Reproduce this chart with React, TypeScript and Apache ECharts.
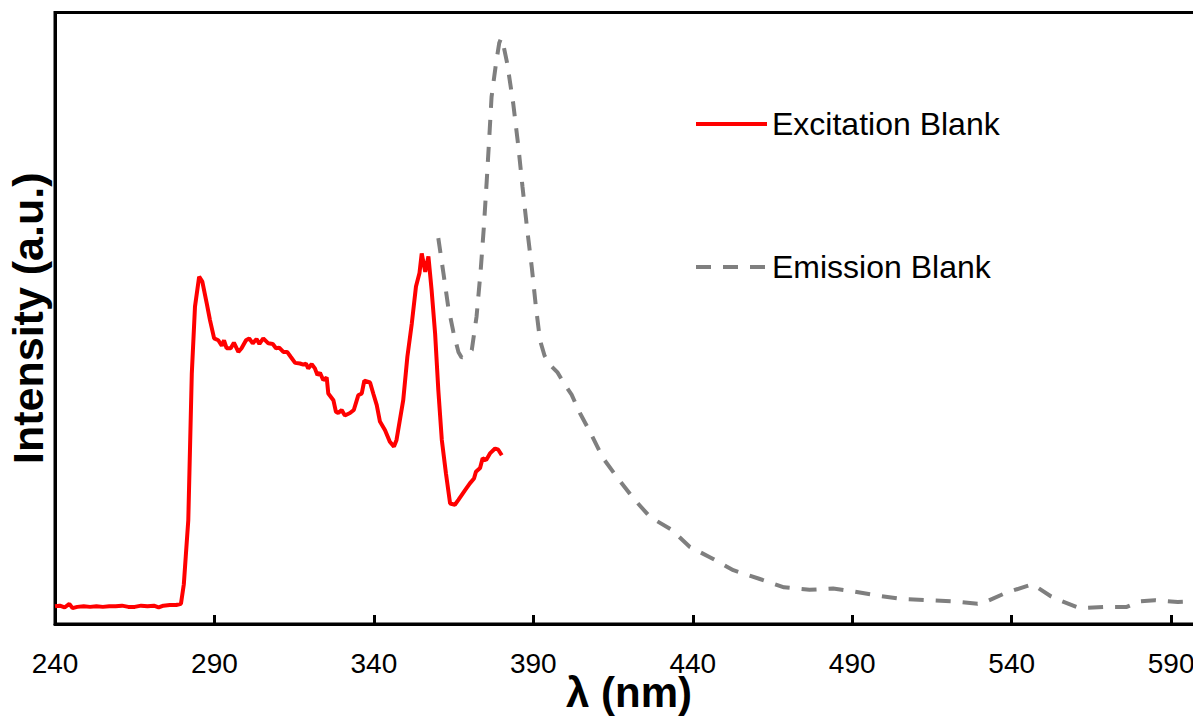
import React, { useEffect, useRef } from "react";
import * as echarts from "echarts";

// Excitation blank spectrum (wavelength in nm, intensity in arbitrary units)
const excitationWavelength = [
  240, 241.5, 243, 244.5, 245.5, 247, 249, 251, 253, 255, 257, 259, 261, 263, 265, 267, 269, 271, 272.5, 274,
  276, 278, 279.5, 280.4, 281.0, 281.8, 282.9, 283.9, 285.2, 286.2, 287.6, 288.6, 289.9, 291.2, 292.3, 293.0,
  293.8, 295.1, 296.1, 297.5, 298.5, 299.9, 300.9, 302.0, 303.2, 304.1, 305.3, 306.9, 308.3, 309.3, 310.3,
  311.6, 312.8, 313.9, 315.3, 316.8, 317.9, 318.7, 319.4, 320.5, 321.5, 322.3, 323.1, 324.1, 325.2, 325.7,
  327.3, 328.1, 328.8, 329.9, 330.9, 332.5, 333.7, 335.1, 336.2, 337.0, 338.8, 339.8, 340.9, 341.9, 343.5,
  345.0, 346.3, 347.1, 349.2, 350.5, 351.9, 353.2, 354.3, 355.0, 356.1, 357.1, 358.1, 359.2, 360.2, 361.3,
  362.6, 363.9, 365.4, 366.5, 368.6, 370.1, 371.4, 372.0, 373.3, 374.1, 375.2, 376.4, 378.0, 379.0, 380.1,
];
const excitationIntensity = [
  2.9, 3.0, 2.7, 3.3, 2.6, 2.8, 2.9, 2.8, 2.9, 2.8, 2.9, 2.9, 3.0, 2.8, 2.8, 3.0, 2.9, 3.0, 2.7, 3.0,
  3.1, 3.1, 3.3, 6.5, 11, 17, 41, 51.9, 56.8, 56.0, 52.4, 49.7, 46.7, 46.4, 45.5, 46.4,
  45.1, 45.1, 46.0, 44.5, 45.1, 46.4, 46.7, 45.9, 46.6, 45.8, 46.7, 45.9, 45.8, 45.1, 45.2,
  44.5, 44.5, 43.7, 42.7, 42.6, 42.4, 42.6, 41.8, 42.5, 41.8, 40.7, 41.1, 39.9, 40.3, 37.7,
  36.6, 34.7, 34.5, 35.0, 34.1, 34.5, 35.0, 37.4, 37.7, 39.8, 39.5, 37.7, 35.8, 33.1, 31.7,
  29.8, 29.0, 30.1, 36.6, 43.7, 49.2, 55.2, 57.4, 60.6, 57.6, 60.1, 54.6, 47.5, 38.3, 30.1,
  24.6, 19.7, 19.5, 20.3, 21.9, 23.0, 23.8, 24.9, 25.5, 27.1, 26.8, 27.9, 28.7, 28.5, 27.6,
];

// Emission blank spectrum
const emissionWavelength = [
  360.2, 361.8, 363.3, 364.9, 366.5, 367.5, 368.6, 370.7, 372.2, 373.5, 374.5, 375.4, 376.2, 376.9, 378.3,
  379.3, 379.9, 380.8, 381.8, 383.7, 385.3, 386.6, 388.1, 389.5, 390.8, 392.1, 393.5, 395.2, 397.5, 399.9,
  402, 404.6, 407.8, 411.9, 416.1, 421.3, 426.6, 433.4, 439.1, 445.8, 452.7, 460.8, 468.6, 476.6, 484.0,
  490.8, 498.6, 505.6, 513.9, 521.6, 529.3, 531.7, 538.2, 544.7, 546.5, 552.4, 554.8, 561.3, 569.0, 576.1,
  580.2, 584.9, 592.1, 597, 600,
];
const emissionIntensity = [
  63.1, 57.4, 51.9, 47.8, 44.5, 43.6, 43.7, 44.8, 50.3, 57.9, 65.0, 72.6, 79.7, 86.2, 91.7,
  95.0, 95.8, 94.2, 91.7, 85.1, 78.1, 71.5, 64.4, 58.4, 51.9, 46.4, 43.9, 42.4, 41.2, 39.1,
  37.5, 34.5, 31.4, 27.1, 24.1, 20.6, 17.5, 15.4, 12.6, 10.8, 8.8, 7.4, 6.0, 5.6, 5.8,
  5.3, 4.6, 4.1, 3.9, 3.7, 3.3, 3.6, 5.1, 6.2, 6.5, 4.5, 3.9, 2.6, 2.8, 2.8,
  3.7, 3.9, 3.6, 3.7, 3.6,
];

const seriesNames = ["Excitation Blank", "Emission Blank"];
const seriesColors = ["#ff0000", "#7f7f7f"];
const emissionDash = [15, 12];

const xTitle = "λ (nm)";
const yTitle = "Intensity (a.u.)";

const xTickStart = 240;
const xTickStep = 50;
const xEnd = 600;

const FONT = "'Liberation Sans', Arial, sans-serif";

const zip = (xs: number[], ys: number[]) => xs.map((x, i) => [x, ys[i]]);

// Hand-placed key: a short line sample followed by the series name
function legendEntry(y: number, name: string, color: string, dash?: number[]) {
  return [
    {
      type: "line",
      shape: { x1: 696, y1: y, x2: 767, y2: y },
      style: { stroke: color, lineWidth: 4, lineDash: dash },
    },
    {
      type: "text",
      x: 772,
      y,
      style: {
        text: name,
        font: `32px ${FONT}`,
        fill: "#000",
        textAlign: "left",
        textVerticalAlign: "middle",
      },
    },
  ];
}

export default function App() {
  const ref = useRef<HTMLDivElement>(null);

  useEffect(() => {
    if (!ref.current) return;
    const chart = echarts.init(ref.current, undefined, { renderer: "svg" });
    chart.setOption({
      animation: false,
      backgroundColor: "#ffffff",
      grid: {
        left: 55,
        right: -10,
        top: 12.5,
        bottom: 95,
        outerBoundsMode: "none",
        containLabel: false,
        show: true,
        borderColor: "#000",
        borderWidth: 3,
      },
      graphic: [
        ...legendEntry(124, seriesNames[0], seriesColors[0]),
        ...legendEntry(267, seriesNames[1], seriesColors[1], emissionDash),
        // x-axis title, centred under the plot area
        {
          type: "text",
          x: 629,
          y: 692,
          style: {
            text: xTitle,
            font: `bold 42px ${FONT}`,
            fill: "#000",
            textAlign: "center",
            textVerticalAlign: "middle",
          },
        },
      ],
      xAxis: {
        type: "value",
        min: xTickStart,
        max: xEnd,
        interval: xTickStep,
        axisLine: { show: true, lineStyle: { color: "#000", width: 3 } },
        axisTick: { show: true, inside: true, length: 9, lineStyle: { color: "#000", width: 3 } },
        axisLabel: {
          fontFamily: FONT,
          fontSize: 28,
          color: "#000",
          margin: 25,
          showMaxLabel: false,
        },
        splitLine: { show: false },
      },
      yAxis: {
        type: "value",
        min: 0,
        max: 100,
        name: yTitle,
        nameLocation: "middle",
        nameGap: 6,
        nameTextStyle: { fontFamily: FONT, fontSize: 43, fontWeight: "bold", color: "#000" },
        axisLine: { show: true, lineStyle: { color: "#000", width: 3 } },
        axisTick: { show: false },
        axisLabel: { show: false },
        splitLine: { show: false },
      },
      series: [
        {
          name: seriesNames[0],
          type: "line",
          data: zip(excitationWavelength, excitationIntensity),
          symbol: "none",
          lineStyle: { color: seriesColors[0], width: 4 },
          itemStyle: { color: seriesColors[0] },
        },
        {
          name: seriesNames[1],
          type: "line",
          data: zip(emissionWavelength, emissionIntensity),
          symbol: "none",
          lineStyle: { color: seriesColors[1], width: 4, type: emissionDash },
          itemStyle: { color: seriesColors[1] },
        },
      ],
    });
    return () => chart.dispose();
  }, []);

  return (
    <div
      ref={ref}
      style={{ position: "absolute", left: 0, top: 0, width: 1193, height: 719, background: "#fff" }}
    />
  );
}
